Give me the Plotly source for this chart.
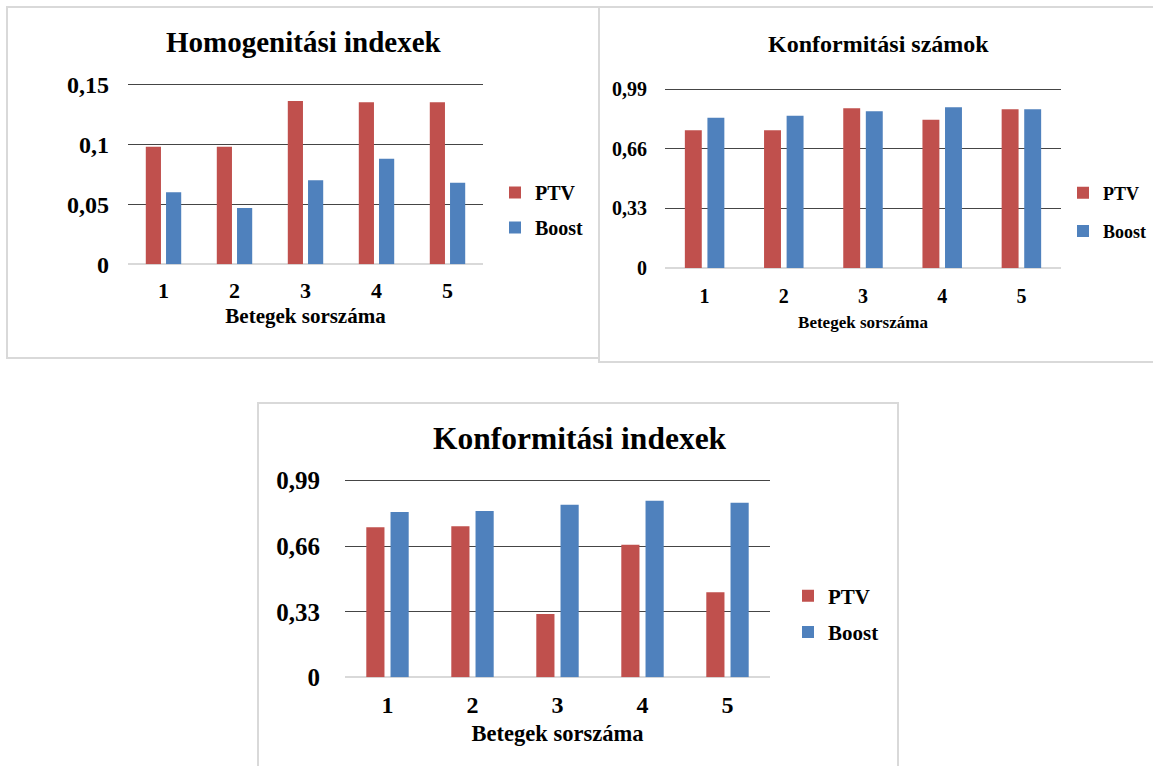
import plotly.graph_objects as go

W, H = 1153, 766

# Patient numbers on the x axis
patients = ["1", "2", "3", "4", "5"]

# Homogeneity indices
hi_ptv = [0.098, 0.098, 0.136, 0.135, 0.135]
hi_boost = [0.060, 0.047, 0.070, 0.088, 0.068]

# Conformity numbers
cn_ptv = [0.763, 0.763, 0.885, 0.822, 0.879]
cn_boost = [0.833, 0.844, 0.868, 0.890, 0.879]

# Conformity indices
ci_ptv = [0.756, 0.761, 0.319, 0.668, 0.428]
ci_boost = [0.832, 0.837, 0.869, 0.889, 0.879]

hi_ticks = [0, 0.05, 0.1, 0.15]
c_ticks = [0, 0.33, 0.66, 0.99]

titles = ["Homogenitási indexek", "Konformitási számok", "Konformitási indexek"]
x_title = "Betegek sorszáma"
series_names = ["PTV", "Boost"]

RED = "#C0504D"
BLUE = "#4F81BD"
FONT = "Liberation Serif, Times New Roman, serif"
GRID = "#454545"
BORDER = "#d9d9d9"
HEADROOM = 1.02  # small space above the top tick so its grid line is kept


def px_x(x):
    return x / W


def px_y(y):
    return 1 - y / H


# per-panel layout (pixel geometry of the plotting areas)
panels = [
    dict(ptv=hi_ptv, boost=hi_boost, ticks=hi_ticks,
         xdom=(128, 483), ydom=(264.3, 84.3),
         ytick=24, xtick=22, xtitle=21, legend=20, title=29,
         title_pos=(304, 42), leg_pos=(495, 210), leg_gap=6,
         ystand=18, xstand=11, tstand=6,
         box=(7, 7, 599, 358)),
    dict(ptv=cn_ptv, boost=cn_boost, ticks=c_ticks,
         xdom=(665, 1061), ydom=(268.0, 89.3),
         ytick=20, xtick=20, xtitle=17, legend=18, title=24,
         title_pos=(879, 44), leg_pos=(1063, 212), leg_gap=12,
         ystand=17, xstand=14, tstand=10,
         box=(599, 7, 1157, 362)),
    dict(ptv=ci_ptv, boost=ci_boost, ticks=c_ticks,
         xdom=(345, 770), ydom=(677.3, 480.7),
         ytick=25, xtick=24, xtitle=22.5, legend=21, title=31.5,
         title_pos=(580, 438), leg_pos=(788, 614), leg_gap=6,
         ystand=24, xstand=11, tstand=7,
         box=(258, 403, 898, 780)),
]

fig = go.Figure()
layout = dict(
    width=W, height=H, autosize=False,
    margin=dict(l=0, r=0, t=0, b=0, autoexpand=False),
    paper_bgcolor="white", plot_bgcolor="white",
    barmode="group", bargap=0.43, bargroupgap=0.25,
    separators=", ",
    shapes=[], annotations=[],
)

for i, p in enumerate(panels):
    sfx = "" if i == 0 else str(i + 1)
    leg = "legend" + sfx
    for name, vals, col in zip(series_names, [p["ptv"], p["boost"]], [RED, BLUE]):
        fig.add_trace(go.Bar(
            x=patients, y=vals, name=name, marker_color=col,
            marker_line_width=0,
            xaxis="x" + sfx, yaxis="y" + sfx,
            legend=leg, legendgroup=f"{name}{i}",
        ))

    ymax = p["ticks"][-1]
    y_zero, y_top_tick = p["ydom"]
    y_dom_top = y_zero - (y_zero - y_top_tick) * HEADROOM
    layout["xaxis" + sfx] = dict(
        domain=[px_x(p["xdom"][0]), px_x(p["xdom"][1])],
        anchor="y" + sfx, type="category", automargin=False,
        showgrid=False, showline=False, ticks="",
        ticklabelstandoff=p["xstand"],
        tickfont=dict(family=FONT, size=p["xtick"], color="black", weight="bold"),
        title=dict(text=x_title, standoff=p["tstand"],
                   font=dict(family=FONT, size=p["xtitle"], color="black", weight="bold")),
    )
    layout["yaxis" + sfx] = dict(
        domain=[px_y(y_zero), px_y(y_dom_top)],
        anchor="x" + sfx, range=[0, ymax * HEADROOM], automargin=False,
        tickvals=p["ticks"], showgrid=True, gridcolor=GRID, gridwidth=1,
        zeroline=True, zerolinecolor=BORDER, zerolinewidth=1.5,
        showline=False, ticks="", ticklabelstandoff=p["ystand"],
        tickfont=dict(family=FONT, size=p["ytick"], color="black", weight="bold"),
    )
    layout[leg] = dict(
        x=px_x(p["leg_pos"][0]), y=px_y(p["leg_pos"][1]),
        xanchor="left", yanchor="middle",
        traceorder="grouped", tracegroupgap=p["leg_gap"],
        bgcolor="rgba(0,0,0,0)", borderwidth=0,
        font=dict(family=FONT, size=p["legend"], color="black", weight="bold"),
    )
    x0, y0, x1, y1 = p["box"]
    layout["shapes"].append(dict(
        type="rect", xref="paper", yref="paper",
        x0=px_x(x0), x1=px_x(x1), y0=px_y(y1), y1=px_y(y0),
        line=dict(color=BORDER, width=2), fillcolor="rgba(0,0,0,0)", layer="below",
    ))
    layout["annotations"].append(dict(
        text=titles[i], xref="paper", yref="paper",
        x=px_x(p["title_pos"][0]), y=px_y(p["title_pos"][1]),
        xanchor="center", yanchor="middle", showarrow=False,
        font=dict(family=FONT, size=p["title"], color="black", weight="bold"),
    ))

fig.update_layout(**layout)
fig.write_html("out.html")
